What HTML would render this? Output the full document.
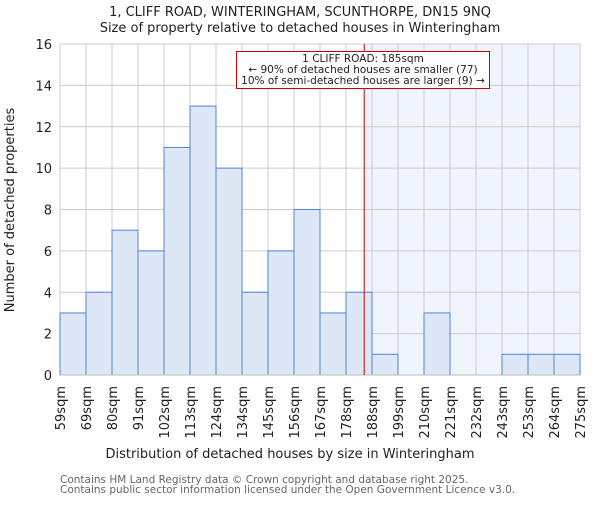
<!DOCTYPE html>
<html><head><meta charset="utf-8"><style>body{margin:0;background:#fff}svg{font-family:"DejaVu Sans","Liberation Sans",sans-serif}</style></head>
<body>
<svg id="chart" width="600" height="500"></svg>
<script>
const binLabels=["59sqm","69sqm","80sqm","91sqm","102sqm","113sqm","124sqm","134sqm","145sqm","156sqm","167sqm","178sqm","188sqm","199sqm","210sqm","221sqm","232sqm","243sqm","253sqm","264sqm","275sqm"];
const counts=[3,4,7,6,11,13,10,4,6,8,3,4,1,0,3,0,0,1,1,1];
const yTicks=[0,2,4,6,8,10,12,14,16];
const markerPos=11.7;
const svg=document.getElementById('chart');
const NS='http://www.w3.org/2000/svg';
const L=60,R=580,T=44,B=375,yMax=16;
const bw=(R-L)/counts.length;
const x=i=>L+i*bw, y=v=>B-(v/yMax)*(B-T);
function el(t,a,txt){const e=document.createElementNS(NS,t);for(const k in a)e.setAttribute(k,a[k]);if(txt!==undefined)e.textContent=txt;svg.appendChild(e);return e;}
let e;
e=el('rect',{x:x(markerPos),y:T,width:R-x(markerPos),height:B-T,fill:'#f0f4fc'});

for(let i=0;i<=counts.length;i++){e=el('line',{x1:x(i),x2:x(i),y1:T,y2:B,stroke:'#cccccc','stroke-width':1});
}
yTicks.forEach(v=>{e=el('line',{x1:L,x2:R,y1:y(v),y2:y(v),stroke:'#cccccc','stroke-width':1});

e=el('text',{x:L-8,y:y(v)+5,'text-anchor':'end','font-size':13,fill:'#222'},v);
});
counts.forEach((c,i)=>{if(c<=0)return;e=el('rect',{x:x(i),y:y(c),width:bw,height:B-y(c),fill:'#dde7f5',stroke:'#4f86d9','stroke-width':1});
});
binLabels.forEach((lab,i)=>{e=el('text',{transform:`translate(${x(i)+5},386) rotate(-90)`,'text-anchor':'end','font-size':13,fill:'#222'},lab);
});
e=el('line',{x1:L,x2:R,y1:B,y2:B,stroke:'#bbb'});
e=el('line',{x1:x(markerPos),x2:x(markerPos),y1:T,y2:B,stroke:'#cc0000','stroke-width':1});

e=el('rect',{x:236.5,y:51.5,width:253,height:37,fill:'#fff',stroke:'#cc0000'});

[["1 CLIFF ROAD: 185sqm",62],["← 90% of detached houses are smaller (77)",73],["10% of semi-detached houses are larger (9) →",84]].forEach(([t,yy])=>{
e=el('text',{x:363,y:yy,'text-anchor':'middle','font-size':10.5,fill:'#222'},t);
});
e=el('text',{x:300,y:16,'text-anchor':'middle','font-size':13,fill:'#222'},"1, CLIFF ROAD, WINTERINGHAM, SCUNTHORPE, DN15 9NQ");

e=el('text',{x:300,y:32,'text-anchor':'middle','font-size':13,fill:'#222'},"Size of property relative to detached houses in Winteringham");

e=el('text',{transform:'translate(14,210) rotate(-90)','text-anchor':'middle','font-size':13,fill:'#222'},"Number of detached properties");

e=el('text',{x:290,y:458,'text-anchor':'middle','font-size':13,fill:'#222'},"Distribution of detached houses by size in Winteringham");

e=el('text',{x:60,y:483,'font-size':10.5,fill:'#666'},"Contains HM Land Registry data © Crown copyright and database right 2025.");

e=el('text',{x:60,y:493,'font-size':10.5,fill:'#666'},"Contains public sector information licensed under the Open Government Licence v3.0.");

</script>
</body></html>
